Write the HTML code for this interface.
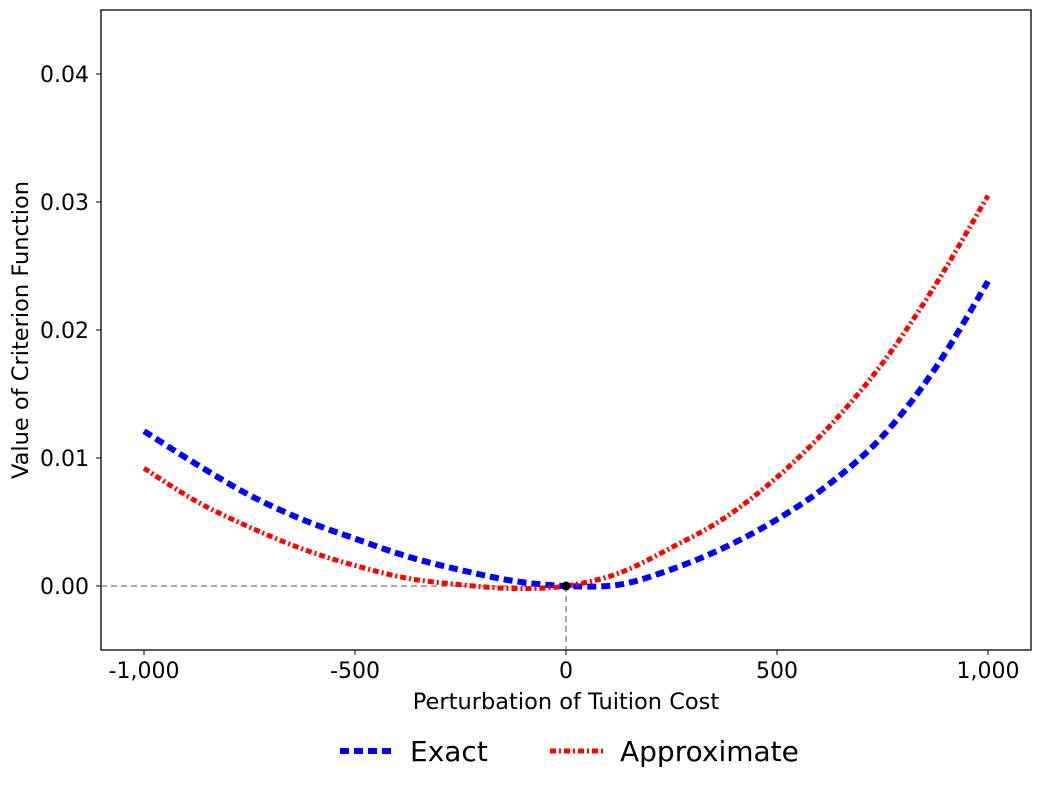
<!DOCTYPE html>
<html><head><meta charset="utf-8"><style>
body{margin:0;background:#fff;}
svg text{font-family:"DejaVu Sans","Liberation Sans",sans-serif;fill:#000;}
</style></head><body>
<svg id="chart" width="1040" height="788" xmlns="http://www.w3.org/2000/svg">
<rect x="101" y="10" width="930" height="640" fill="none" stroke="#000" stroke-width="1.3"/>
<g id="ticks"></g>
<g id="series"></g>
<text x="566" y="709" font-size="22.5" text-anchor="middle">Perturbation of Tuition Cost</text>
<text transform="translate(28,330) rotate(-90)" font-size="22.5" text-anchor="middle">Value of Criterion Function</text>
<g>
<line x1="340" y1="751" x2="394" y2="751" stroke="#0000ff" stroke-width="6" stroke-dasharray="9,5"/>
<text x="410" y="761" font-size="28">Exact</text>
<line x1="550" y1="751" x2="604" y2="751" stroke="#ff0000" stroke-width="5" stroke-dasharray="6,3,2,3"/>
<text x="620" y="761" font-size="28">Approximate</text>
</g>
</svg>
<script>
const xs=[-1000,-875,-750,-625,-500,-375,-250,-125,0,125,250,375,500,625,750,875,1000];
const exactVals=[.0121,.0095,.0071,.0052,.0037,.0023,.00125,.0004,0,.0001,.0013,.0030,.0052,.0080,.0117,.0170,.0238];
const approxVals=[.0092,.0066,.0046,.0029,.0016,.0006,.0001,-.0002,0,.0010,.0030,.0053,.0085,.0125,.0174,.0235,.0305];
const xTicks=[-1000,-500,0,500,1000];
const xTickLabels=["-1,000","-500","0","500","1,000"];
const yTicks=[0,0.01,0.02,0.03,0.04];
const yTickLabels=["0.00","0.01","0.02","0.03","0.04"];
const NS="http://www.w3.org/2000/svg";
const X=v=>566+v*0.422;
const Y=v=>586-v*12800;
const svg=document.getElementById('chart');
const tg=document.getElementById('ticks'), sg=document.getElementById('series');
function mk(tag,attrs,parent){const e=document.createElementNS(NS,tag);for(const k in attrs)e.setAttribute(k,attrs[k]);parent.appendChild(e);return e;}
xTicks.forEach((t,i)=>{
 const l=mk('line',{x1:X(t),x2:X(t),y1:650,y2:655,stroke:'#000'},tg);
 
 
 const tx=mk('text',{x:X(t),y:678,'font-size':22,'text-anchor':'middle'},tg);tx.textContent=xTickLabels[i];
 
 
});
yTicks.forEach((t,i)=>{
 const l=mk('line',{x1:96,x2:101,y1:Y(t),y2:Y(t),stroke:'#000'},tg);
 
 
 const tx=mk('text',{x:89,y:Y(t)+8,'font-size':22,'text-anchor':'end'},tg);tx.textContent=yTickLabels[i];
 
 
});
const h=mk('line',{x1:101,x2:X(0),y1:Y(0),y2:Y(0),stroke:'#777','stroke-width':1.3,'stroke-dasharray':'6,4'},sg);


const v=mk('line',{x1:X(0),x2:X(0),y1:Y(0),y2:650,stroke:'#777','stroke-width':1.3,'stroke-dasharray':'6,4'},sg);


function path(vals){
 const p=xs.map((x,i)=>[X(x),Y(vals[i])]);
 let d='M'+p[0][0]+','+p[0][1];
 for(let i=0;i<p.length-1;i++){
  const p0=p[Math.max(i-1,0)],p1=p[i],p2=p[i+1],p3=p[Math.min(i+2,p.length-1)];
  const c1=[p1[0]+(p2[0]-p0[0])/6,p1[1]+(p2[1]-p0[1])/6],c2=[p2[0]-(p3[0]-p1[0])/6,p2[1]-(p3[1]-p1[1])/6];
  d+=' C'+c1+' '+c2+' '+p2;
 }
 return d;
}
const ex=mk('path',{d:path(exactVals),fill:'none',stroke:'#0000ff','stroke-width':6,'stroke-dasharray':'9,5'},sg);


const ap=mk('path',{d:path(approxVals),fill:'none',stroke:'#ff0000','stroke-width':5,'stroke-dasharray':'6,3,2,3'},sg);


const dot=mk('circle',{cx:X(0),cy:Y(0),r:4.5,fill:'#000'},sg);


</script>
</body></html>
